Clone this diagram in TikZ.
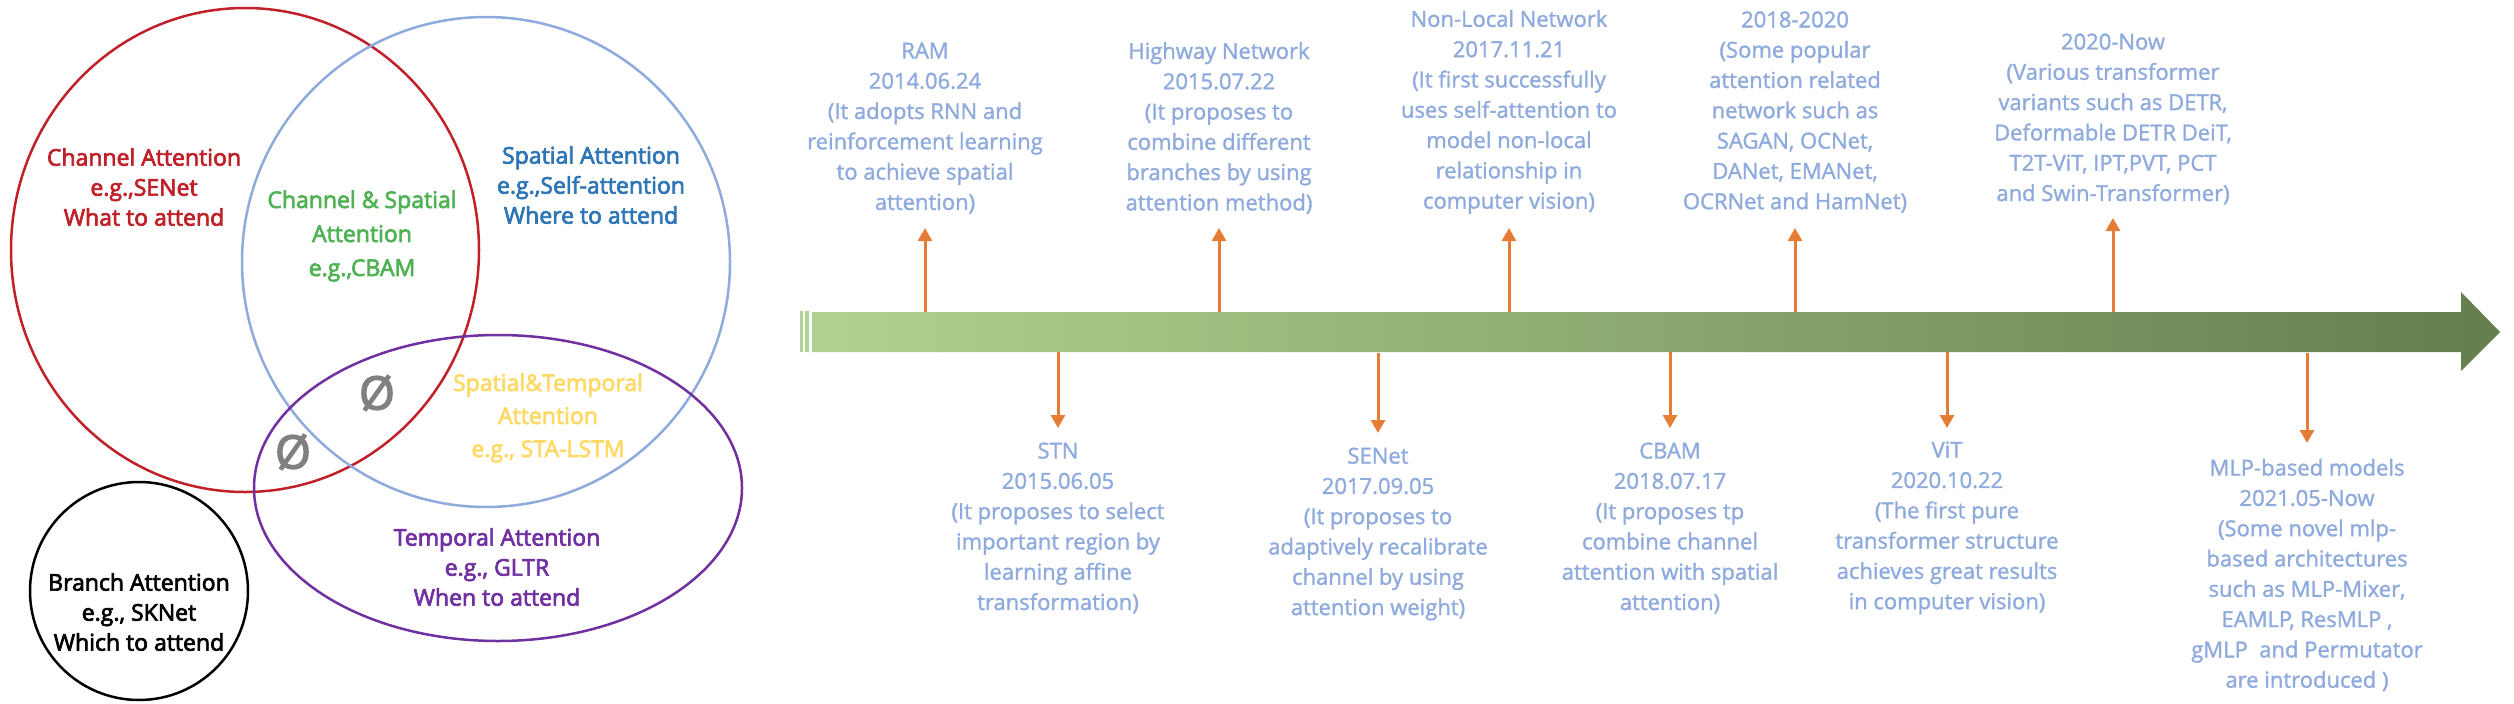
\documentclass[tikz,border=0pt]{standalone}
\usepackage{fontspec}
\setmainfont{Open Sans}
\newfontfamily\vennfont[FakeBold=3]{Open Sans}
\newfontfamily\tlfont[FakeBold=1.5]{Open Sans}
\usetikzlibrary{arrows.meta}
\definecolor{tlblue}{RGB}{143,170,220}
\definecolor{arrorange}{RGB}{230,125,55}
\definecolor{barL}{RGB}{176,210,144}
\definecolor{barR}{RGB}{100,126,78}
\definecolor{vred}{RGB}{192,32,40}
\definecolor{vgreen}{RGB}{80,178,84}
\definecolor{vblue}{RGB}{46,117,182}
\definecolor{vyellow}{RGB}{255,217,102}
\definecolor{vpurple}{RGB}{112,48,160}
\definecolor{vcircle}{RGB}{143,170,220}
\definecolor{vgray}{RGB}{128,128,128}
\begin{document}
\begin{tikzpicture}[x=1pt,y=-1pt,
  tltext/.style={text=tlblue, align=center, font=\tlfont\fontsize{22}{30.3}\selectfont, inner sep=0},
  venntext/.style={align=center, font=\vennfont\fontsize{23}{30}\selectfont, inner sep=0},
  tlarrow/.style={draw=arrorange, line width=3pt, -{Triangle[width=14pt,length=13pt]}},
  vennline/.style={line width=2.5pt},
  emptyset/.style={text=vgray, font=\vennfont\fontsize{46}{46}\selectfont, inner sep=0}]
\useasboundingbox (0,0) rectangle (2514,704);

% Venn diagram
\draw[vennline, draw=vred] (245,250) ellipse [x radius=234, y radius=242];
\draw[vennline, draw=vcircle] (486,262) ellipse [x radius=244, y radius=245];
\draw[vennline, draw=vpurple] (498,488) ellipse [x radius=244, y radius=153];
\draw[vennline, draw=black] (139,591) ellipse [x radius=109, y radius=109];

\node[venntext, text=vred] (chan) at (144,187) {Channel Attention\\e.g.,SENet\\What to attend};
\node[venntext, text=vblue] (spat) at (591,185) {Spatial Attention\\e.g.,Self-attention\\Where to attend};
\node[venntext, text=vgreen, font=\vennfont\fontsize{23}{34}\selectfont] (chsp) at (362,236) {Channel \& Spatial\\Attention\\e.g.,CBAM};
\node[venntext, text=vyellow, font=\vennfont\fontsize{23}{33}\selectfont] (sptm) at (548,418) {Spatial\&Temporal\\Attention\\e.g., STA-LSTM};
\node[venntext, text=vpurple] (temp) at (497,567) {Temporal Attention\\e.g., GLTR\\When to attend};
\node[venntext, text=black] (bran) at (139,612) {Branch Attention\\e.g., SKNet\\Which to attend};
\node[emptyset] (e1) at (377,393) {Ø};
\node[emptyset] (e2) at (293,452) {Ø};

% Timeline bar
\fill[barL] (800,311) rectangle (802.5,352);
\fill[barL] (805,311) rectangle (809,352);
\shade[left color=barL, right color=barR] (812,312) -- (2461,312) -- (2461,292) -- (2500,332) -- (2461,371) -- (2461,352) -- (812,352) -- cycle;

% Up arrows
\coordinate (ramB) at (925,312);   \coordinate (ramT) at (925,228);
\coordinate (hwB) at (1219,312);   \coordinate (hwT) at (1219,228);
\coordinate (nlB) at (1509,312);   \coordinate (nlT) at (1509,228);
\coordinate (p18B) at (1795,312);  \coordinate (p18T) at (1795,228);
\coordinate (p20B) at (2113,312);  \coordinate (p20T) at (2113,218);
% Down arrows
\coordinate (stnB) at (1058,352);  \coordinate (stnT) at (1058,428);
\coordinate (seB) at (1378,353);   \coordinate (seT) at (1378,433);
\coordinate (cbB) at (1670,352);   \coordinate (cbT) at (1670,428);
\coordinate (vitB) at (1947,352);  \coordinate (vitT) at (1947,428);
\coordinate (mlpB) at (2307,353);  \coordinate (mlpT) at (2307,443);

\foreach \a in {ram,hw,nl,p18,p20,stn,se,cb,vit,mlp}
  \draw[tlarrow] (\a B) -- (\a T);

% Timeline texts (above)
\node[tltext] (ram) at (925,128) {RAM\\2014.06.24\\(It adopts RNN and\\reinforcement learning\\to achieve spatial\\attention)};
\node[tltext] (hw) at (1219,128) {Highway Network\\2015.07.22\\(It proposes to\\combine different\\branches by using\\attention method)};
\node[tltext] (nl) at (1509,112) {Non-Local Network\\2017.11.21\\(It first successfully\\uses self-attention to\\model non-local\\relationship in\\computer vision)};
\node[tltext] (p18) at (1795,112) {2018-2020\\(Some popular\\attention related\\network such as\\SAGAN, OCNet,\\DANet, EMANet,\\OCRNet and HamNet)};
\node[tltext] (p20) at (2113,119) {2020-Now\\(Various transformer\\variants such as DETR,\\Deformable DETR DeiT,\\T2T-ViT, IPT,PVT, PCT\\and Swin-Transformer)};

% Timeline texts (below)
\node[tltext] (stn) at (1058,528) {STN\\2015.06.05\\(It proposes to select\\important region by\\learning affine\\transformation)};
\node[tltext] (se) at (1378,534) {SENet\\2017.09.05\\(It proposes to\\adaptively recalibrate\\channel by using\\attention weight)};
\node[tltext] (cb) at (1670,528) {CBAM\\2018.07.17\\(It proposes tp\\combine channel\\attention with spatial\\attention)};
\node[tltext] (vit) at (1947,528) {ViT\\2020.10.22\\(The first pure\\transformer structure\\achieves great results\\in computer vision)};
\node[tltext] (mlp) at (2307,575) {MLP-based models\\2021.05-Now\\(Some novel mlp-\\based architectures\\such as MLP-Mixer,\\EAMLP, ResMLP ,\\gMLP~ and Permutator\\are introduced )};
\end{tikzpicture}
\end{document}
